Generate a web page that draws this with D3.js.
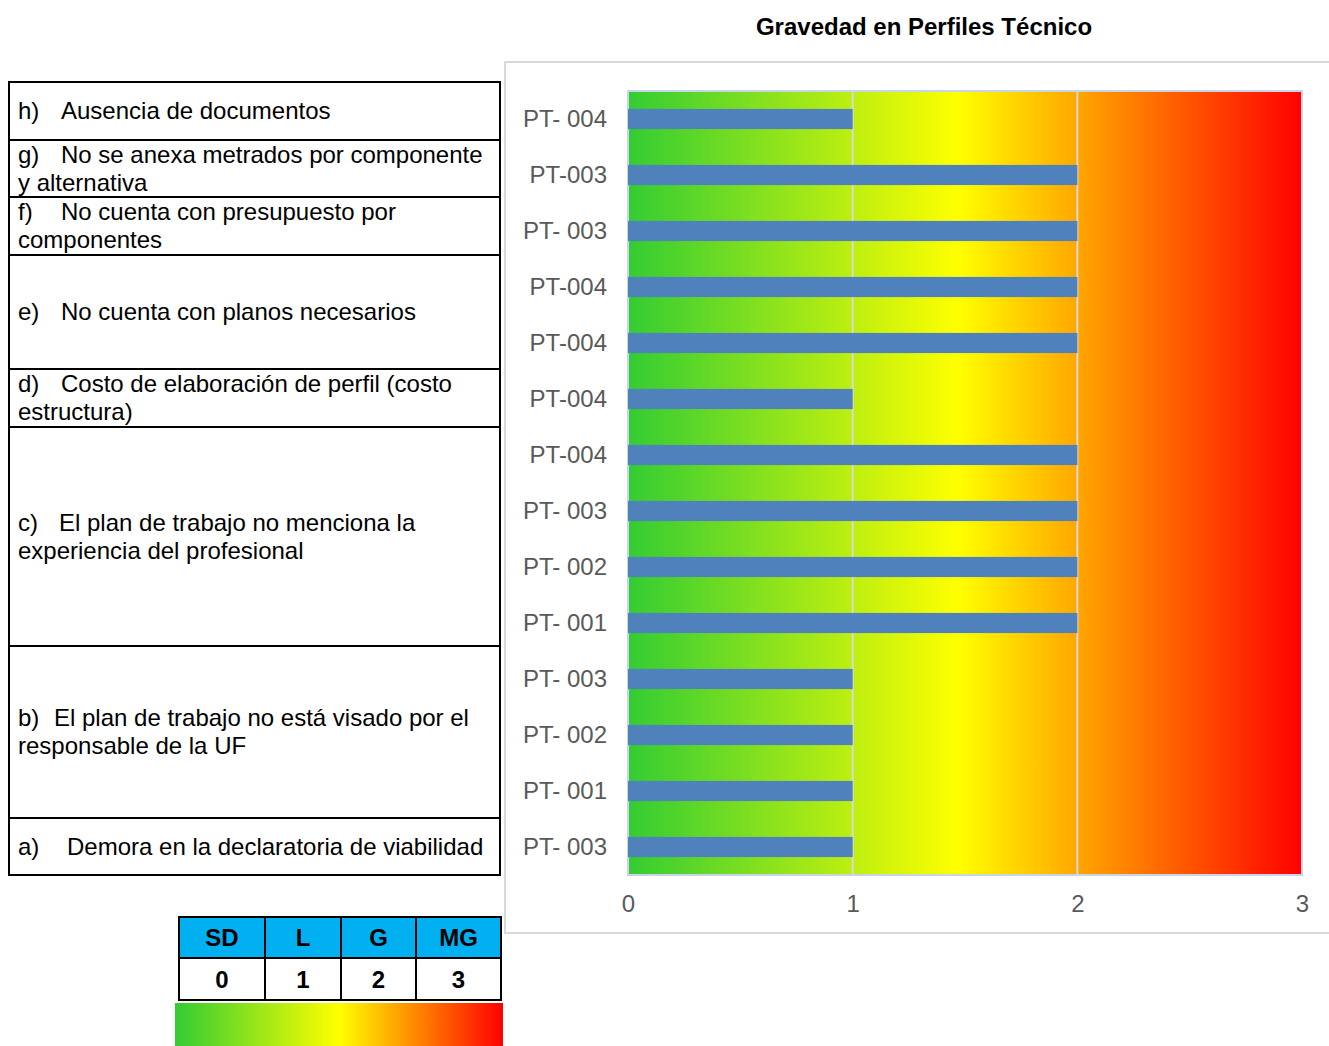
<!DOCTYPE html>
<html>
<head>
<meta charset="utf-8">
<script src="https://cdn.jsdelivr.net/npm/d3@7"></script>
<style>
  body { margin: 0; background: #fff; }
  svg text { font-family: "Liberation Sans", Arial, sans-serif; }
</style>
</head>
<body>
<svg id="chart" width="1329" height="1046"></svg>
<script>
// chart data (top to bottom)
const profiles = ['PT- 004', 'PT-003', 'PT- 003', 'PT-004', 'PT-004', 'PT-004', 'PT-004',
  'PT- 003', 'PT- 002', 'PT- 001', 'PT- 003', 'PT- 002', 'PT- 001', 'PT- 003'];
const severity = [1, 2, 2, 2, 2, 1, 2, 2, 2, 2, 1, 1, 1, 1];
const xTicks = [0, 1, 2, 3];

// left-hand table of observations
const obsLetters = ['h)', 'g)', 'f)', 'e)', 'd)', 'c)', 'b)', 'a)'];
const obsLines = [
  ['Ausencia de documentos'],
  ['No se anexa metrados por componente', 'y alternativa'],
  ['No cuenta con presupuesto por', 'componentes'],
  ['No cuenta con planos necesarios'],
  ['Costo de elaboración de perfil (costo', 'estructura)'],
  ['El plan de trabajo no menciona la', 'experiencia del profesional'],
  ['El plan de trabajo no está visado por el', 'responsable de la UF'],
  ['Demora en la declaratoria de viabilidad']
];

// severity scale legend
const scaleCodes = ['SD', 'L', 'G', 'MG'];
const scaleValues = [0, 1, 2, 3];

const svg = d3.select('#chart');
const FS = '24px';

// gradient defs
const defs = svg.append('defs');
const plotGrad = defs.append('linearGradient').attr('id', 'plotGrad')
  .attr('x1', '0%').attr('x2', '100%').attr('y1', '0%').attr('y2', '0%');
plotGrad.append('stop').attr('offset', '0%').attr('stop-color', '#33cc33');
plotGrad.append('stop').attr('offset', '49%').attr('stop-color', '#ffff00');
plotGrad.append('stop').attr('offset', '100%').attr('stop-color', '#ff0000');

const legGrad = defs.append('linearGradient').attr('id', 'legGrad')
  .attr('x1', '0%').attr('x2', '100%').attr('y1', '0%').attr('y2', '0%');
legGrad.append('stop').attr('offset', '0%').attr('stop-color', '#33cc33');
legGrad.append('stop').attr('offset', '50%').attr('stop-color', '#ffff00');
legGrad.append('stop').attr('offset', '100%').attr('stop-color', '#ff0000');

// title
svg.append('text')
  .attr('x', 924).attr('y', 35)
  .attr('text-anchor', 'middle')
  .style('font-size', FS).style('font-weight', 'bold')
  .text('Gravedad en Perfiles Técnico');

// chart frame
svg.append('rect')
  .attr('x', 505).attr('y', 62).attr('width', 840).attr('height', 871)
  .attr('fill', '#fff').attr('stroke', '#d9d9d9').attr('stroke-width', 2);

const plot = { left: 628, right: 1302, top: 91, bottom: 875 };

const x = d3.scaleLinear().domain([0, 3]).range([plot.left, plot.right]);
const y = d3.scaleBand()
  .domain(profiles.map((d, i) => i))
  .range([plot.top, plot.bottom])
  .paddingInner(0.64)
  .paddingOuter(0.32);

// gradient background
svg.append('rect')
  .attr('x', x(0)).attr('y', plot.top)
  .attr('width', x(3) - x(0)).attr('height', plot.bottom - plot.top)
  .attr('fill', 'url(#plotGrad)')
  .attr('stroke', '#c6d5ea').attr('stroke-width', 2);

// gridlines
svg.append('g')
  .selectAll('line')
  .data([1, 2])
  .enter()
  .append('line')
  .attr('x1', (d) => x(d)).attr('x2', (d) => x(d))
  .attr('y1', plot.top).attr('y2', plot.bottom)
  .attr('stroke', '#d9d9d9').attr('stroke-width', 2);

// bars
svg.append('g')
  .selectAll('rect')
  .data(severity)
  .enter()
  .append('rect')
  .attr('x', x(0))
  .attr('y', (d, i) => y(i))
  .attr('width', (d) => x(d) - x(0))
  .attr('height', y.bandwidth())
  .attr('fill', '#4f81bd');

// y axis
const yAxis = svg.append('g')
  .attr('transform', `translate(${plot.left},0)`)
  .call(d3.axisLeft(y).tickSize(0).tickPadding(21).tickFormat((i) => profiles[i]));
yAxis.select('.domain').remove();
yAxis.selectAll('text')
  .style('font-size', FS).style('font-family', '"Liberation Sans", Arial, sans-serif')
  .attr('fill', '#595959');

// x axis
const xAxis = svg.append('g')
  .attr('transform', `translate(0,${plot.bottom})`)
  .call(d3.axisBottom(x).tickValues(xTicks).tickSize(0).tickPadding(20).tickFormat(d3.format('d')));
xAxis.select('.domain').remove();
xAxis.selectAll('text')
  .style('font-size', FS).style('font-family', '"Liberation Sans", Arial, sans-serif')
  .attr('fill', '#595959');

// left table
const rowEdges = [82, 140, 197, 255, 369, 427, 646, 818, 875];
const textStart = [61, 61, 61, 61, 61, 59, 54, 67];
const table = svg.append('g');
obsLetters.forEach((letter, i) => {
  const top = rowEdges[i];
  const bottom = rowEdges[i + 1];
  const lines = obsLines[i];
  const lineH = 28;
  const mid = (top + bottom) / 2;
  const first = lines.length === 1 ? mid + 8 : (bottom - top < 70 ? top + 23 : mid - 6);
  const t = table.append('text').style('font-size', FS).attr('fill', '#000');
  t.append('tspan').attr('x', 18).attr('y', first).text(letter);
  t.append('tspan').attr('x', textStart[i]).attr('y', first).text(lines[0]);
  lines.slice(1).forEach((l, k) => {
    t.append('tspan').attr('x', 18).attr('y', first + lineH * (k + 1)).text(l);
  });
});
table.selectAll('line.h')
  .data(rowEdges)
  .enter()
  .append('line')
  .attr('x1', 8).attr('x2', 501)
  .attr('y1', (d) => d).attr('y2', (d) => d)
  .attr('stroke', '#000').attr('stroke-width', 2);
[9, 500].forEach((xx) => {
  table.append('line')
    .attr('x1', xx).attr('x2', xx).attr('y1', 81).attr('y2', 876)
    .attr('stroke', '#000').attr('stroke-width', 2);
});

// severity legend table
const colEdges = [179, 265, 341, 416, 501];
const legRows = [917, 958, 1000];
const leg = svg.append('g');
scaleCodes.forEach((code, i) => {
  const x0 = colEdges[i], x1 = colEdges[i + 1];
  leg.append('rect')
    .attr('x', x0).attr('y', legRows[0]).attr('width', x1 - x0).attr('height', legRows[1] - legRows[0])
    .attr('fill', '#00b0f0').attr('stroke', '#000').attr('stroke-width', 2);
  leg.append('rect')
    .attr('x', x0).attr('y', legRows[1]).attr('width', x1 - x0).attr('height', legRows[2] - legRows[1])
    .attr('fill', '#fff').attr('stroke', '#000').attr('stroke-width', 2);
  leg.append('text')
    .attr('x', (x0 + x1) / 2).attr('y', legRows[0] + 29)
    .attr('text-anchor', 'middle')
    .style('font-size', FS).style('font-weight', 'bold')
    .text(code);
  leg.append('text')
    .attr('x', (x0 + x1) / 2).attr('y', legRows[1] + 30)
    .attr('text-anchor', 'middle')
    .style('font-size', FS).style('font-weight', 'bold')
    .text(scaleValues[i]);
});
leg.append('rect')
  .attr('x', 175).attr('y', 1003).attr('width', 328).attr('height', 43)
  .attr('fill', 'url(#legGrad)');
</script>
</body>
</html>
